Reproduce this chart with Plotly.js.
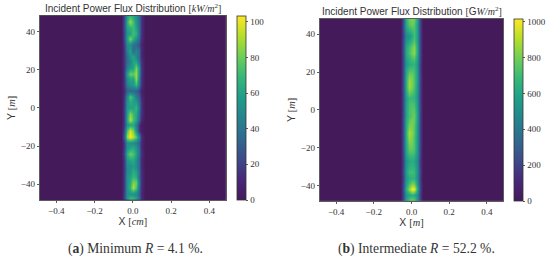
<!DOCTYPE html>
<html><head><meta charset="utf-8">
<script src="https://cdn.plot.ly/plotly-3.0.1.min.js"></script>
<style>html,body{margin:0;padding:0;background:#fff}#c{width:550px;height:259px}</style>
</head><body><div id="c"></div>
<script>
const xCols = [-0.485,-0.062,-0.045,-0.03,-0.015,0,0.015,0.03,0.045,0.062,0.485];
const yRows = [48,45,42,39,36,33,30,27,24,21,18,15,12,9,6,3,0,-3,-6,-9,-12,-15,-18,-21,-24,-27,-30,-33,-36,-39,-42,-45,-48];
const fluxA = [
[22,58,68,62,52,36,16],[24,66,88,72,54,38,16],[24,60,66,70,60,38,16],[22,56,60,72,66,40,16],
[22,60,84,66,52,34,15],[18,50,50,38,34,26,10],[16,46,60,36,46,36,12],[16,38,52,62,48,34,12],
[16,38,46,60,60,40,16],[16,44,56,60,82,54,18],[18,60,80,78,88,52,18],[16,50,62,60,86,48,16],
[16,44,54,56,70,42,16],[12,32,34,34,32,22,8],[16,50,76,62,44,32,12],[18,54,64,60,56,38,16],
[18,56,60,60,68,44,16],[18,60,84,70,62,38,16],[18,64,92,74,60,34,12],[18,54,60,62,44,16,4],
[24,74,98,82,52,18,5],[30,88,103,94,76,48,16],[18,52,52,50,44,32,12],[18,54,60,64,54,36,12],
[22,66,80,74,60,38,16],[18,56,62,64,52,34,12],[18,50,52,58,50,34,12],[18,50,54,64,58,36,14],
[18,54,60,70,64,36,14],[18,54,64,84,80,42,16],[18,54,68,92,74,38,14],[20,52,54,52,48,32,12],
[20,58,74,74,62,38,16]];
const fluxB = [
[230,640,780,820,790,600,210],[230,620,740,780,750,580,210],[220,570,650,700,730,580,210],[200,490,530,620,710,580,210],
[220,550,620,700,750,590,210],[230,600,700,780,830,620,220],[230,620,720,800,840,620,220],[220,580,660,710,730,580,210],
[210,550,620,650,670,550,200],[220,600,720,730,700,560,200],[230,630,810,790,730,570,210],[230,650,860,810,740,570,210],
[230,650,870,800,730,560,210],[220,610,780,730,690,550,200],[210,570,680,680,660,540,200],[220,590,710,730,710,560,200],
[220,600,720,750,750,580,210],[220,600,720,760,780,590,210],[230,620,760,800,770,580,210],[230,640,820,810,750,570,210],
[230,650,880,830,750,570,210],[230,640,850,810,730,560,210],[230,620,800,790,730,560,210],[220,610,750,760,720,550,200],
[210,580,690,700,670,530,200],[190,530,610,630,600,490,180],[200,550,650,670,650,510,190],[210,580,700,710,690,530,200],
[190,540,630,650,650,510,190],[210,580,720,810,790,570,210],[230,640,840,1010,990,640,220],[210,540,600,640,610,500,190],
[220,610,760,810,780,570,210]];
const ticksY = [-40,-20,0,20,40];
const ticksX = [-0.4,-0.2,0,0.2,0.4];
const tickTextX = ['−0.4','−0.2','0.0','0.2','0.4'];
const tickTextY = ['−40','−20','0','20','40'];
const cbTicksA = [0,20,40,60,80,100];
const cbTicksB = [0,200,400,600,800,1000];

const viridis = [[0,'#441a5a'],[0.11,'#482878'],[0.22,'#3e4989'],[0.33,'#31688e'],[0.44,'#26828e'],[0.56,'#1f9e89'],[0.67,'#35b779'],[0.78,'#6ece58'],[0.89,'#b5de2b'],[1,'#fde725']];
const pad = r => [0,0].concat(r,[0,0]);
const serif = 'Liberation Serif, serif';
const sans = 'Liberation Sans, sans-serif';
const ink = '#333';
const W = 550, H = 259;
const cb = (l, t, b, ticks) => ({
  thickness: 9, thicknessmode:'pixels', x:l/W, xanchor:'left', xpad:0, ypad:0,
  y:1-b/H, yanchor:'bottom', len:(b-t)/H, lenmode:'fraction',
  tickvals:ticks, ticks:'outside', ticklen:2.5, tickwidth:0.8, tickcolor:ink,
  tickfont:{family:serif,size:9,color:ink}, outlinewidth:0.8, outlinecolor:ink
});
const hm = (z, xa, ya, zmax, bar) => ({type:'heatmap', x:xCols, y:yRows, z:z.map(pad), xaxis:xa, yaxis:ya,
  zmin:0, zmax:zmax, zsmooth:'best', colorscale:viridis, colorbar:bar, hoverinfo:'skip'});
const it = s => '<span style="font-family:Liberation Serif"><i>'+s+'</i></span>';
const sr = s => '<span style="font-family:Liberation Serif">'+s+'</span>';
const ax = (l, r, vals, text, range, title, standoff) => ({domain:[l,r], range:range, tickvals:vals, ticktext:text, ticks:'outside',
  ticklen:2.5, tickwidth:0.8, tickcolor:ink, showgrid:false, zeroline:false, showline:true, mirror:true,
  linecolor:ink, linewidth:0.8, tickfont:{family:serif,size:9,color:ink},
  title:{text:title,standoff:standoff,font:{family:sans,size:10.4,color:'#333'}}, automargin:false});
const xa1 = ax(40/W,225.7/W,ticksX,tickTextX,[-0.485,0.485],'X '+sr('[')+it('cm')+sr(']'),1); xa1.anchor='y';
const ya1 = ax(1-200/H,1-15.7/H,ticksY,tickTextY,[-48.2,48.2],'Y '+sr('[')+it('m')+sr(']'),3); ya1.anchor='x';
const xa2 = ax(320/W,503/W,ticksX,tickTextX,[-0.485,0.485],'X '+sr('[')+it('m')+sr(']'),1); xa2.anchor='y2';
const ya2 = ax(1-200.7/H,1-19/H,ticksY,tickTextY,[-48,48],'Y '+sr('[')+it('m')+sr(']'),3); ya2.anchor='x2';
const note = (x,y,text,size,fam) => ({xref:'paper',yref:'paper',x:x/W,y:1-y/H,text:text,showarrow:false,
  xanchor:'center',yanchor:'middle',font:{family:fam,size:size,color:'#333'}});
const layout = {width:W,height:H,margin:{l:0,r:0,t:0,b:0},paper_bgcolor:'#fff',plot_bgcolor:'#441a5a',showlegend:false,
  xaxis:xa1,yaxis:ya1,xaxis2:xa2,yaxis2:ya2,
  annotations:[
   note(133,8,'Incident Power Flux Distribution '+sr('[')+it('kW/m')+sr('<sup>2</sup>]'),10,sans),
   note(411.7,10.5,'Incident Power Flux Distribution '+sr('[')+'G'+it('W/m')+sr('<sup>2</sup>]'),10,sans),
   note(135.5,249,'(<b>a</b>) Minimum <i>R</i> = 4.1 %.',13.6,serif),
   note(416,249,'(<b>b</b>) Intermediate <i>R</i> = 52.2 %.',13.6,serif)
  ]};
Plotly.newPlot('c',[hm(fluxA,'x','y',103.2,cb(237,16,200,cbTicksA)),hm(fluxB,'x2','y2',1015,cb(514,19,201,cbTicksB))],layout,{displayModeBar:false,staticPlot:true});
</script></body></html>
